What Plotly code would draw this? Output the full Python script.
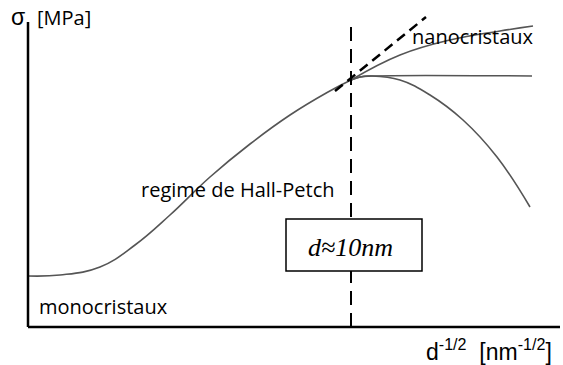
import plotly.graph_objects as go

# Schematic coordinates: x = d^-1/2 (arbitrary units), y = sigma (arbitrary units)
hp_x = [0, 32, 72, 107, 142, 182, 222, 262, 300, 323]
hp_y = [51, 52, 60, 82, 112, 150, 183, 212, 235, 247]

nano_x = [323, 372, 422, 472, 505]
nano_y = [247, 272, 287, 296, 301]

plateau_x = [323, 332, 344, 504]
plateau_y = [247, 250, 251, 251]

soft_x = [323, 332, 344, 372, 402, 435, 469, 502]
soft_y = [247, 250, 251, 247, 232, 207, 170, 120]

tangent_x = [307, 398]
tangent_y = [236, 310]

d_crit = 323
axis_x_end = 532
axis_y_end = 305

curve_color = "#555555"

fig = go.Figure()

for xs, ys in [(hp_x, hp_y), (nano_x, nano_y), (plateau_x, plateau_y), (soft_x, soft_y)]:
    fig.add_trace(go.Scatter(x=xs, y=ys, mode="lines", line=dict(color=curve_color, width=1.6, shape="spline", smoothing=1.2), hoverinfo="skip"))

fig.add_trace(go.Scatter(x=tangent_x, y=tangent_y, mode="lines", line=dict(color="black", width=2.5, dash="10px,6px"), hoverinfo="skip"))
fig.add_trace(go.Scatter(x=[d_crit, d_crit], y=[0, axis_y_end + 2], mode="lines", line=dict(color="black", width=2, dash="14px,8px"), hoverinfo="skip"))

# axes
fig.add_trace(go.Scatter(x=[0, 0], y=[0, axis_y_end], mode="lines", line=dict(color="black", width=2.5), hoverinfo="skip"))
fig.add_trace(go.Scatter(x=[0, axis_x_end], y=[0, 0], mode="lines", line=dict(color="black", width=2.5), hoverinfo="skip"))

# label box
fig.add_shape(type="rect", x0=258, x1=394, y0=56, y1=108, line=dict(color="black", width=1.5), fillcolor="white", layer="above")

sans = "Open Sans"
ann = [
    dict(x=445, y=291, text="nanocristaux", font=dict(family=sans, size=20, color="black")),
    dict(x=210, y=138, text="regime de Hall-Petch", font=dict(family=sans, size=20, color="black")),
    dict(x=75, y=21, text="monocristaux", font=dict(family=sans, size=20, color="black")),
    dict(x=-10, y=310, text="σ", font=dict(family="Liberation Sans", size=23, color="black")),
    dict(x=36, y=310, text="[MPa]", font=dict(family=sans, size=20, color="black")),
    dict(x=461, y=-23, text="d<sup>-1/2</sup>  [nm<sup>-1/2</sup>]", font=dict(family="Liberation Sans", size=23, color="black")),
    dict(x=322, y=80, text="<i>d≈10nm</i>", font=dict(family="Liberation Serif", size=26, color="black")),
]
for a in ann:
    fig.add_annotation(showarrow=False, xanchor="center", yanchor="middle", **a)

fig.update_layout(
    width=563, height=365,
    margin=dict(l=0, r=0, t=0, b=0),
    paper_bgcolor="white", plot_bgcolor="white",
    showlegend=False,
    xaxis=dict(range=[-28, 535], visible=False, fixedrange=True),
    yaxis=dict(range=[-38, 327], visible=False, fixedrange=True),
)

fig.write_html("out.html")
